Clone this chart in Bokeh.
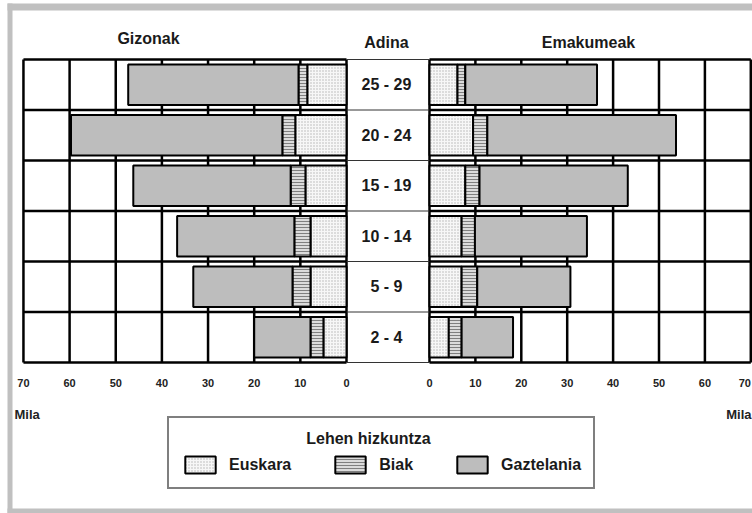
from bokeh.plotting import figure
from bokeh.models import ColumnDataSource, Range1d, Legend, LegendItem
from bokeh.core.properties import value
from bokeh.embed import file_html
from bokeh.resources import INLINE

# ---------------- data ----------------
ages = ["2 - 4", "5 - 9", "10 - 14", "15 - 19", "20 - 24", "25 - 29"]
men_euskara = [5.0, 7.8, 7.8, 8.9, 11.1, 8.5]
men_biak = [2.8, 3.9, 3.5, 3.2, 2.8, 1.9]
men_gaztelania = [12.2, 21.5, 25.4, 34.1, 45.8, 36.9]
women_euskara = [4.2, 7.0, 7.0, 7.8, 9.5, 6.1]
women_biak = [2.8, 3.4, 2.9, 3.1, 3.1, 1.7]
women_gaztelania = [11.2, 20.3, 24.4, 32.3, 41.1, 28.7]
series = ["Euskara", "Biak", "Gaztelania"]
ticks = [0, 10, 20, 30, 40, 50, 60, 70]
tick_labels = ["0", "10", "20", "30", "40", "50", "60", "70"]
unit_label = "Mila"
title_men = "Gizonak"
title_age = "Adina"
title_women = "Emakumeak"
legend_title = "Lehen hizkuntza"

# ---------------- layout (canvas pixels) ----------------
W, H = 752, 513
M0, MS = 346.0, 4.615      # men: pixel of 0, px per unit (axis runs leftwards)
W0, WS = 429.0, 4.59       # women: pixel of 0, px per unit
ROW_BOTTOM, ROW_H = 362.0, 50.5
MID_X = 386
TICK_Y = 382
FONT_NAME = "Liberation Sans"
FONT = value(FONT_NAME)
FRAME_GRAY = "#c0c0c0"
LEG_LEFT, LEG_BOTTOM = 167, 489
LEG_TITLE_X, LEG_TITLE_Y = 368, 438

n = len(ages)
p = figure(width=W, height=H, title=None,
           x_range=Range1d(0, W), y_range=Range1d(H, 0),
           x_axis_location=None, y_axis_location=None,
           output_backend="svg", toolbar_location=None,
           min_border=0, border_fill_color="white",
           background_fill_color="white", outline_line_color=None)
p.grid.visible = False

p.extra_x_ranges = {
    "men": Range1d(M0 / MS, (M0 - W) / MS),
    "women": Range1d(-W0 / WS, (W - W0) / WS),
}
p.extra_y_ranges = {
    "rows": Range1d((ROW_BOTTOM - H) / ROW_H - 0.5, ROW_BOTTOM / ROW_H - 0.5)
}

# outer gray frame of the picture
p.segment(x0=[9.5, 7, 7], x1=[9.5, W, W], y0=[3, 6.5, 510.5], y1=[H, 6.5, 510.5],
          line_color=FRAME_GRAY, line_width=[5, 7, 5])

src = ColumnDataSource(dict(
    idx=list(range(n)), age=ages,
    m_eus=men_euskara, m_biak=men_biak, m_gaz=men_gaztelania,
    w_eus=women_euskara, w_biak=women_biak, w_gaz=women_gaztelania,
))

bounds = [i - 0.5 for i in range(n + 1)]

# grid of each panel
for name in ["men", "women"]:
    p.segment(x0=ticks, x1=ticks, y0=-0.5, y1=n - 0.5,
              x_range_name=name, y_range_name="rows",
              line_color="black", line_width=2.5)
    p.segment(x0=ticks[0], x1=ticks[-1], y0=bounds, y1=bounds,
              x_range_name=name, y_range_name="rows",
              line_color="black", line_width=2.5)
    offs = [0] * (len(ticks) - 1) + [(-6 if name == "women" else 0)]
    p.text(x=ticks, y=TICK_Y, text=tick_labels, x_range_name=name, x_offset=offs,
           text_font=FONT, text_font_style="bold", text_font_size="11px",
           text_align="center", text_baseline="middle", text_color="#222222")

# middle column lines
p.segment(x0=M0, x1=W0, y0=bounds, y1=bounds, y_range_name="rows",
          line_color="#333333", line_width=1)

FILLS = ["#f7f7f7", "#dcdcdc", "#bdbdbd"]
HATCH = ["dot", "horizontal_line", " "]
HCOL = ["#b4b4b4", "#808080", "#bdbdbd"]
HSCALE = [3, 3, 6]

men_r = p.hbar_stack(["m_eus", "m_biak", "m_gaz"], y="idx", height=0.8, source=src,
                     x_range_name="men", y_range_name="rows",
                     fill_color=FILLS, line_color="black", line_width=2,
                     hatch_pattern=HATCH, hatch_color=HCOL, hatch_scale=HSCALE,
                     hatch_weight=1)
women_r = p.hbar_stack(["w_eus", "w_biak", "w_gaz"], y="idx", height=0.8, source=src,
                       x_range_name="women", y_range_name="rows",
                       fill_color=FILLS, line_color="black", line_width=2,
                       hatch_pattern=HATCH, hatch_color=HCOL, hatch_scale=HSCALE,
                       hatch_weight=1)

# age labels
p.text(x=MID_X, y="idx", text="age", source=src, y_range_name="rows",
       text_font=FONT, text_font_style="bold", text_font_size="16px",
       text_align="center", text_baseline="middle", text_color="#1a1a1a")

# headers
p.text(x=[148, 386, 588], y=[38, 42, 42], text=[title_men, title_age, title_women],
       text_font=FONT, text_font_style="bold", text_font_size="16px",
       text_align="center", text_baseline="middle", text_color="#1a1a1a")

# unit labels
p.text(x=[14, 751], y=[414, 414], text=[unit_label, unit_label],
       text_align=["left", "right"],
       text_font=FONT, text_font_style="bold", text_font_size="13px",
       text_baseline="middle", text_color="#222222")

# centred legend title (the legend reserves the space, transparent background)
p.text(x=[LEG_TITLE_X], y=[LEG_TITLE_Y], text=[legend_title],
       text_font=FONT, text_font_style="bold", text_font_size="16px",
       text_align="center", text_baseline="middle", text_color="#1a1a1a")

legend = Legend(
    items=[LegendItem(label=s, renderers=[r]) for s, r in zip(series, men_r)],
    orientation="horizontal", location=(LEG_LEFT, H - LEG_BOTTOM),
    title=" ", title_text_font=FONT_NAME, title_text_font_style="bold",
    title_text_font_size="15px",
    label_text_font=FONT_NAME, label_text_font_style="bold", label_text_font_size="16px",
    label_text_color="#1a1a1a",
    glyph_width=38, glyph_height=21, label_standoff=10, spacing=40,
    padding=12, margin=0, title_standoff=7,
    border_line_color="black", border_line_width=2,
    background_fill_color="white", background_fill_alpha=0.0,
)
p.add_layout(legend)

open("out.html", "w").write(file_html(p, INLINE))
